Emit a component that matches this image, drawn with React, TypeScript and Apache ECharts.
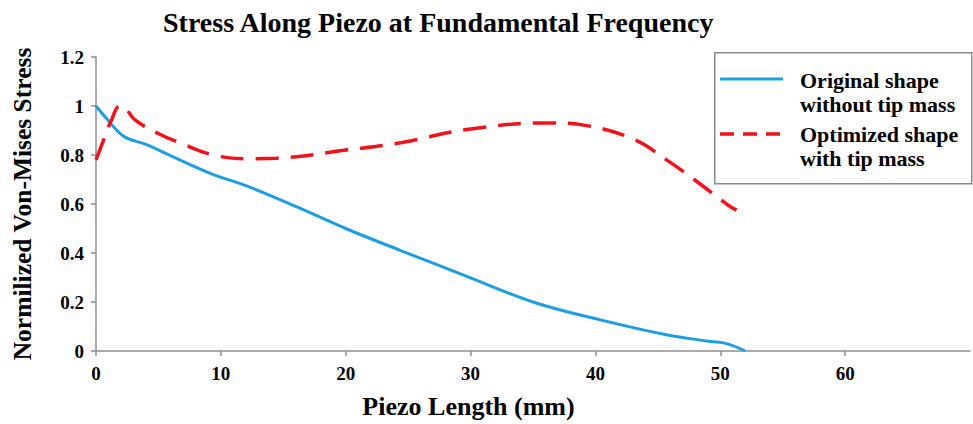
import React, { useEffect, useRef } from "react";
import * as echarts from "echarts";

const titleText = "Stress Along Piezo at Fundamental Frequency";
const xAxisName = "Piezo Length (mm)";
const yAxisName = "Normilized Von-Mises Stress";
const seriesNames = ["Original shape\nwithout tip mass", "Optimized shape\nwith tip mass"];
const xTicks = [0, 10, 20, 30, 40, 50, 60];

const blueX = [0, 1, 2.2, 4, 6.7, 9.4, 12, 16, 20, 24.4, 29.7, 35, 40.4, 45.7, 49.2, 50.5, 52];
const blueY = [1.0, 0.94, 0.877, 0.843, 0.78, 0.72, 0.675, 0.59, 0.5, 0.41, 0.305, 0.2, 0.127, 0.066, 0.039, 0.03, 0.0];

const redX = [0, 0.6, 1.25, 1.9, 2.3, 3.1, 4.9, 6.7, 9.4, 12.1, 14.5, 20, 24.4, 29.7, 36.1, 39.3, 43.1, 45.7, 47.9, 50.7, 51.3];
const redY = [0.78, 0.86, 0.944, 1.0, 0.995, 0.944, 0.89, 0.85, 0.8, 0.785, 0.787, 0.82, 0.85, 0.904, 0.931, 0.92, 0.863, 0.78, 0.7, 0.593, 0.575];

const BLUE = "#1d9fe0";
const RED = "#f2121c";
const FONT = "'Liberation Serif', 'Times New Roman', serif";

export default function App() {
  const ref = useRef<HTMLDivElement>(null);
  useEffect(() => {
    if (!ref.current) return;
    const chart = echarts.init(ref.current, undefined, { renderer: "svg" });
    const blueData = blueX.map((x, i) => [x, blueY[i]]);
    const redData = redX.map((x, i) => [x, redY[i]]);
    const names = seriesNames.map((s) => s.split("\n"));
    chart.setOption({
      animation: false,
      backgroundColor: "#ffffff",
      title: {
        text: titleText,
        left: 158,
        top: 3,
        textStyle: { fontFamily: FONT, fontWeight: "bold", fontSize: 28, color: "#000" },
      },
      grid: { left: 96, right: 3, top: 57, bottom: 71, containLabel: false },
      xAxis: {
        type: "value",
        min: 0,
        max: 70,
        interval: 10,
        name: xAxisName,
        nameLocation: "middle",
        nameGap: 42,
        nameTextStyle: { fontFamily: FONT, fontWeight: "bold", fontSize: 26, color: "#000", padding: [0, 129, 0, 0] },
        axisLine: { show: true, lineStyle: { color: "#8f8f8f", width: 1.5 } },
        axisTick: { show: true, length: 5, lineStyle: { color: "#8f8f8f", width: 1.5 }, customValues: xTicks },
        axisLabel: { fontFamily: FONT, fontWeight: "bold", fontSize: 19, color: "#000", margin: 13, customValues: xTicks },
        splitLine: { show: false },
      },
      yAxis: {
        type: "value",
        min: 0,
        max: 1.2,
        interval: 0.2,
        name: yAxisName,
        nameLocation: "middle",
        nameGap: 61,
        nameRotate: 90,
        nameTextStyle: { fontFamily: FONT, fontWeight: "bold", fontSize: 25.5, color: "#000" },
        axisLine: { show: true, lineStyle: { color: "#8f8f8f", width: 1.5 } },
        axisTick: { show: true, length: 5, lineStyle: { color: "#8f8f8f", width: 1.5 } },
        axisLabel: { fontFamily: FONT, fontWeight: "bold", fontSize: 19, color: "#000", margin: 12 },
        splitLine: { show: false },
      },
      graphic: [
        {
          type: "rect",
          left: 714,
          top: 52,
          shape: { width: 257, height: 131 },
          style: { fill: "#fff", stroke: "#8a8a8a", lineWidth: 1.5 },
          z: 10,
        },
        {
          type: "line",
          shape: { x1: 720, y1: 79, x2: 783, y2: 79 },
          style: { stroke: BLUE, lineWidth: 3 },
          z: 11,
        },
        {
          type: "line",
          shape: { x1: 720, y1: 134, x2: 783, y2: 134 },
          style: { stroke: RED, lineWidth: 3.5, lineDash: [14, 9] },
          z: 11,
        },
        ...[
          [names[0][0], 80],
          [names[0][1], 104],
          [names[1][0], 134.5],
          [names[1][1], 158],
        ].map(([t, y]) => ({
          type: "text",
          x: 800,
          y: y as number,
          style: {
            text: t as string,
            fontFamily: FONT,
            fontWeight: "bold",
            fontSize: 22,
            fill: "#000",
            verticalAlign: "middle",
            align: "left",
          },
          z: 11,
        })),
      ],
      series: [
        {
          name: seriesNames[0],
          type: "line",
          data: blueData,
          smooth: 0.4,
          symbol: "none",
          lineStyle: { color: BLUE, width: 3 },
          z: 3,
        },
        {
          name: seriesNames[1],
          type: "line",
          data: redData,
          smooth: 0.4,
          symbol: "none",
          lineStyle: { color: RED, width: 3.5, type: [23, 12] },
          z: 4,
        },
      ],
    });
    return () => chart.dispose();
  }, []);
  return <div ref={ref} style={{ position: "fixed", left: 0, top: 0, width: 973, height: 424 }} />;
}
